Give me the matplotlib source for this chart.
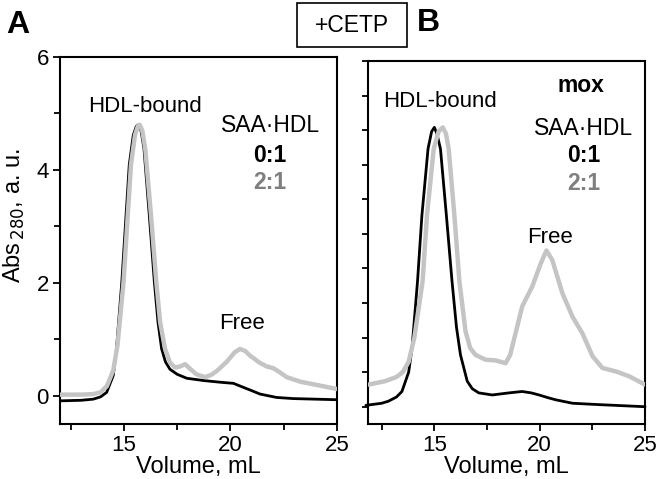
import matplotlib
matplotlib.use('Agg')
import matplotlib.pyplot as plt
from matplotlib.patches import Rectangle
from matplotlib.ticker import MultipleLocator

plt.rcParams['font.family'] = ['Liberation Sans', 'DejaVu Sans']

# Panel A: +CETP, native SAA
a_black_x = [12.0, 13.0, 13.56, 13.9, 14.19, 14.5, 14.65, 14.9, 15.1, 15.25, 15.44, 15.58,
             15.68, 15.8, 15.94, 16.19, 16.43, 16.6, 16.77, 16.95, 17.16, 17.5, 17.95, 18.73,
             19.51, 20.14, 20.6, 21.0, 21.39, 22.17, 22.95, 25.0]
a_black_y = [-0.09, -0.08, -0.06, -0.02, 0.06, 0.36, 0.83, 2.01, 3.2, 4.09, 4.62, 4.77,
             4.8, 4.7, 4.38, 3.2, 2.01, 1.3, 0.83, 0.6, 0.47, 0.38, 0.31, 0.27,
             0.24, 0.22, 0.15, 0.09, 0.03, -0.03, -0.05, -0.07]
a_gray_x = [12.0, 13.0, 13.56, 13.9, 14.2, 14.5, 14.7, 14.98, 15.18, 15.33, 15.52, 15.65,
            15.74, 15.86, 16.0, 16.27, 16.52, 16.7, 16.93, 17.16, 17.4, 17.65, 17.87, 18.1,
            18.4, 18.81, 19.1, 19.36, 19.82, 20.2, 20.45, 20.7, 20.92, 21.39, 21.7, 22.0,
            22.3, 22.64, 23.27, 24.2, 25.0]
a_gray_y = [0.02, 0.02, 0.03, 0.06, 0.17, 0.45, 0.9, 2.01, 3.2, 4.09, 4.62, 4.77,
            4.8, 4.7, 4.38, 3.2, 2.01, 1.3, 0.83, 0.59, 0.5, 0.52, 0.56, 0.48,
            0.38, 0.33, 0.37, 0.44, 0.6, 0.77, 0.83, 0.79, 0.71, 0.58, 0.52, 0.49,
            0.42, 0.33, 0.25, 0.18, 0.12]

# Panel B: +CETP, mox SAA
b_black_x = [11.75, 12.5, 12.82, 13.2, 13.46, 13.78, 13.94, 14.2, 14.41, 14.7, 14.87, 15.0,
             15.12, 15.29, 15.57, 15.84, 16.05, 16.24, 16.56, 16.8, 17.11, 17.75, 18.54, 19.17,
             19.6, 19.97, 20.4, 20.76, 21.56, 22.83, 25.0]
b_black_y = [0.02, 0.05, 0.08, 0.14, 0.22, 0.5, 0.85, 1.81, 2.77, 3.73, 3.98, 4.04,
             3.95, 3.73, 2.77, 1.81, 1.15, 0.75, 0.37, 0.26, 0.2, 0.17, 0.2, 0.22,
             0.2, 0.17, 0.13, 0.1, 0.05, 0.03, 0.0]
b_gray_x = [11.87, 12.67, 13.2, 13.5, 13.78, 14.05, 14.44, 14.65, 14.97, 15.2, 15.4, 15.55,
            15.68, 15.95, 16.19, 16.48, 16.7, 16.95, 17.43, 17.9, 18.38, 18.6, 18.78, 19.17,
            19.65, 20.05, 20.32, 20.6, 21.08, 21.56, 22.03, 22.51, 22.98, 23.62, 24.25, 25.0]
b_gray_y = [0.32, 0.37, 0.43, 0.5, 0.65, 1.0, 1.81, 2.77, 3.73, 3.98, 4.04, 3.95,
            3.73, 2.77, 1.81, 1.09, 0.85, 0.75, 0.68, 0.67, 0.63, 0.75, 0.97, 1.45,
            1.74, 2.07, 2.26, 2.12, 1.64, 1.3, 1.06, 0.73, 0.56, 0.51, 0.44, 0.32]

x_ticks = [15, 20, 25]
a_y_ticks = [0, 2, 4, 6]
ratio_labels = ['0:1', '2:1']

BLACK = '#000000'
GRAY = '#c4c4c4'
DARKGRAY = '#7f7f7f'

W, H = 658, 479
fig = plt.figure(figsize=(W / 100, H / 100), dpi=100)


def fx(px):
    return px / W


def fy(py):
    return 1 - py / H


def style_axes(ax):
    for s in ax.spines.values():
        s.set_linewidth(1.5)
    ax.set_xlim(12, 25)
    ax.set_xticks(x_ticks)
    ax.xaxis.set_minor_locator(MultipleLocator(2.5))
    ax.tick_params(which='both', direction='out', width=1.3, labelsize=16, pad=3)
    ax.tick_params(which='major', length=5)
    ax.tick_params(which='minor', length=4)
    ax.set_xlabel('Volume, mL', fontsize=17, labelpad=0)


line_kw = dict(solid_joinstyle='round', solid_capstyle='round')

axA = fig.add_axes([fx(60), fy(424), fx(337) - fx(60), fy(57) - fy(424)])
axA.plot(a_black_x, a_black_y, color=BLACK, lw=2.0, zorder=2, **line_kw)
axA.plot(a_gray_x, a_gray_y, color=GRAY, lw=3.2, zorder=3, **line_kw)
style_axes(axA)
axA.set_ylim(-0.5, 6)
axA.set_yticks(a_y_ticks)
axA.yaxis.set_minor_locator(MultipleLocator(1))
axA.set_ylabel('Abs$_{\\,280}$, a. u.', fontsize=17)
axA.yaxis.set_label_coords(-0.118, 0.567)

axA.text(15.99, 5.13, 'HDL-bound', fontsize=16, ha='center', va='center')
axA.text(21.86, 4.78, 'SAA\u00b7HDL', fontsize=16.5, ha='center', va='center')
axA.text(21.86, 4.25, ratio_labels[0], fontsize=16.5, fontweight='bold', color=BLACK,
         ha='center', va='center')
axA.text(21.86, 3.77, ratio_labels[1], fontsize=16.5, fontweight='bold', color=DARKGRAY,
         ha='center', va='center')
axA.text(20.54, 1.28, 'Free', fontsize=16, ha='center', va='center')

axB = fig.add_axes([fx(368), fy(424), fx(645) - fx(368), fy(61) - fy(424)])
axB.plot(b_black_x, b_black_y, color=BLACK, lw=2.0, zorder=2, clip_on=False, **line_kw)
axB.plot(b_gray_x, b_gray_y, color=GRAY, lw=3.2, zorder=3, **line_kw)
style_axes(axB)
axB.set_xlim(11.85, 25)
axB.set_ylim(-0.25, 5)
axB.yaxis.set_major_locator(MultipleLocator(1))
axB.yaxis.set_minor_locator(MultipleLocator(0.5))
axB.tick_params(axis='y', which='both', labelleft=False, length=4)

axB.text(21.95, 4.64, 'mox', fontsize=16.5, fontweight='bold', ha='center', va='center')
axB.text(15.29, 4.41, 'HDL-bound', fontsize=16, ha='center', va='center')
axB.text(22.1, 4.02, 'SAA\u00b7HDL', fontsize=16.5, ha='center', va='center')
axB.text(22.1, 3.63, ratio_labels[0], fontsize=16.5, fontweight='bold', color=BLACK,
         ha='center', va='center')
axB.text(22.1, 3.23, ratio_labels[1], fontsize=16.5, fontweight='bold', color=DARKGRAY,
         ha='center', va='center')
axB.text(20.48, 2.45, 'Free', fontsize=16, ha='center', va='center')

# panel letters and the +CETP box
fig.text(fx(6), fy(25), 'A', fontsize=23, fontweight='bold', ha='left', va='center')
fig.text(fx(428), fy(23), 'B', fontsize=23, fontweight='bold', ha='center', va='center')
fig.patches.append(Rectangle((fx(297), fy(47)), fx(407) - fx(297), fy(3) - fy(47),
                             transform=fig.transFigure, fill=False, lw=1.2, ec='black'))
fig.text(fx(352), fy(25), '+CETP', fontsize=16.5, ha='center', va='center')

fig.savefig('out.png', dpi=100)
